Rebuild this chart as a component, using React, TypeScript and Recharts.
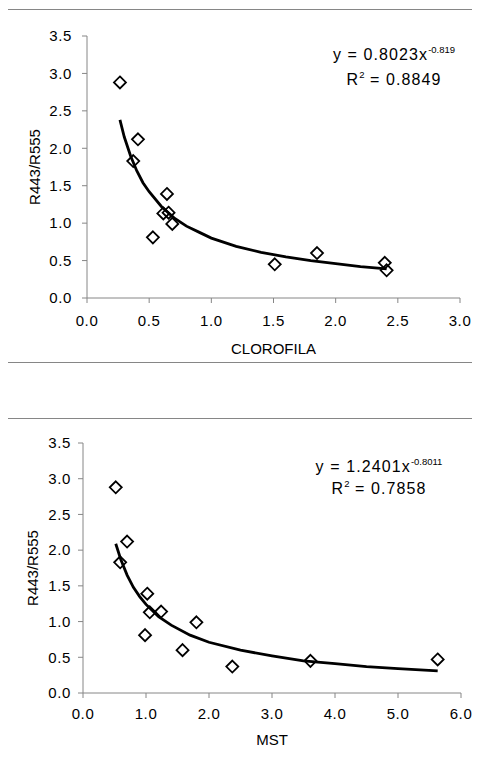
import { ScatterChart, Scatter, XAxis, YAxis } from 'recharts';

// R443/R555 ratio, same samples in both panels
const ratio = [2.88, 2.12, 1.83, 1.39, 1.13, 1.14, 0.99, 0.81, 0.45, 0.6, 0.47, 0.37];
const clorofila = [0.265, 0.41, 0.372, 0.643, 0.614, 0.656, 0.686, 0.53, 1.51, 1.85, 2.395, 2.41];
const mst = [0.52, 0.7, 0.59, 1.02, 1.06, 1.24, 1.8, 0.985, 3.61, 1.58, 5.63, 2.37];

// power trend lines
const trend1X = [0.265, 0.3, 0.35, 0.4, 0.45, 0.5, 0.6, 0.7, 0.8, 0.9, 1.0, 1.2, 1.4, 1.6, 1.8, 2.0, 2.2, 2.41];
const trend1Y = [2.38, 2.15, 1.9, 1.7, 1.54, 1.42, 1.22, 1.07, 0.96, 0.88, 0.8, 0.69, 0.61, 0.55, 0.5, 0.46, 0.42, 0.39];
const trend2X = [0.52, 0.6, 0.7, 0.8, 0.9, 1.0, 1.2, 1.4, 1.7, 2.0, 2.5, 3.0, 3.5, 4.0, 4.5, 5.0, 5.63];
const trend2Y = [2.09, 1.87, 1.65, 1.48, 1.35, 1.24, 1.07, 0.95, 0.81, 0.71, 0.6, 0.52, 0.45, 0.41, 0.37, 0.34, 0.31];

const yTicks = [0, 0.5, 1, 1.5, 2, 2.5, 3, 3.5];
const x1Ticks = [0, 0.5, 1, 1.5, 2, 2.5, 3];
const x2Ticks = [0, 1, 2, 3, 4, 5, 6];

const pts = (xs: number[], ys: number[]) => xs.map((x, i) => ({ x, y: ys[i] }));

const FONT = '"Liberation Sans", Arial, sans-serif';
const AXIS = '#868686';

const Diamond = (props: any) => {
  const { cx, cy } = props;
  const r = 6;
  return (
    <path
      d={`M${cx},${cy - r}L${cx + r},${cy}L${cx},${cy + r}L${cx - r},${cy}Z`}
      fill="none"
      stroke="#000"
      strokeWidth={1.8}
    />
  );
};

const Nothing = () => <g />;

const tickStyle = { fill: '#000', fontSize: 15, fontFamily: FONT, letterSpacing: 0.6 };

function Panel(props: {
  top: number;
  height: number;
  margin: { top: number; right: number; bottom: number; left: number };
  xDomain: [number, number];
  xTicks: number[];
  xLabel: string;
  xHeight: number;
  xTickMargin: number;
  yTickMargin: number;
  yLabelOffset: number;
  data: { x: number; y: number }[];
  trend: { x: number; y: number }[];
}) {
  const p = props;
  return (
    <div style={{ position: 'absolute', left: 0, top: p.top }}>
      <ScatterChart width={480} height={p.height} margin={p.margin}>
        <XAxis
          type="number"
          dataKey="x"
          domain={p.xDomain}
          ticks={p.xTicks}
          interval={0}
          tickFormatter={(v: number) => v.toFixed(1)}
          stroke={AXIS}
          tickSize={5}
          tickMargin={p.xTickMargin}
          tick={tickStyle}
          height={p.xHeight}
          allowDataOverflow
          label={{ value: p.xLabel, position: 'insideBottom', offset: 4, fill: '#000', fontSize: 15, fontFamily: FONT }}
        />
        <YAxis
          type="number"
          dataKey="y"
          domain={[0, 3.5]}
          ticks={yTicks}
          interval={0}
          tickFormatter={(v: number) => v.toFixed(1)}
          stroke={AXIS}
          tickSize={5}
          tickMargin={p.yTickMargin}
          tick={tickStyle}
          width={60}
          allowDataOverflow
          label={{
            value: 'R443/R555',
            angle: -90,
            position: 'insideLeft',
            offset: p.yLabelOffset,
            style: { textAnchor: 'middle' },
            fill: '#000',
            fontSize: 15,
            fontFamily: FONT,
          }}
        />
        <Scatter data={p.data} shape={<Diamond />} isAnimationActive={false} />
        <Scatter
          data={p.trend}
          shape={<Nothing />}
          line={{ stroke: '#000', strokeWidth: 2.8 }}
          lineType="joint"
          isAnimationActive={false}
        />
      </ScatterChart>
    </div>
  );
}

const eqLine = (left: number, top: number, width: number): React.CSSProperties => ({
  position: 'absolute',
  left,
  top,
  width,
  textAlign: 'center',
  fontFamily: FONT,
  fontSize: 16,
  lineHeight: '18px',
  letterSpacing: 1.1,
  color: '#000',
  whiteSpace: 'nowrap',
});

const sup: React.CSSProperties = { fontSize: 9.5, position: 'relative', top: -7, letterSpacing: 0 };

export default function App() {
  return (
    <div style={{ position: 'relative', margin: -8, width: 480, height: 762, overflow: 'hidden', background: '#fff' }}>
      <div style={{ position: 'absolute', left: 7, top: 9, width: 480, height: 352, border: `1px solid ${AXIS}` }} />
      <div style={{ position: 'absolute', left: 7, top: 418, width: 480, height: 360, border: `1px solid ${AXIS}` }} />

      <Panel
        top={0}
        height={362}
        margin={{ top: 36, right: 20, bottom: 4, left: 27 }}
        xDomain={[0, 3]}
        xTicks={x1Ticks}
        xLabel="CLOROFILA"
        xHeight={60}
        xTickMargin={12}
        yTickMargin={10}
        yLabelOffset={8}
        data={pts(clorofila, ratio)}
        trend={pts(trend1X, trend1Y)}
      />
      <Panel
        top={406}
        height={356}
        margin={{ top: 37, right: 19, bottom: 13, left: 23 }}
        xDomain={[0, 6]}
        xTicks={x2Ticks}
        xLabel="MST"
        xHeight={56}
        xTickMargin={10}
        yTickMargin={7}
        yLabelOffset={10}
        data={pts(mst, ratio)}
        trend={pts(trend2X, trend2Y)}
      />

      <div style={eqLine(314, 46, 160)}>
        y = 0.8023x<span style={sup}>-0.819</span>
      </div>
      <div style={eqLine(314, 71, 160)}>
        R<span style={sup}>2</span> = 0.8849
      </div>
      <div style={eqLine(299, 458, 160)}>
        y = 1.2401x<span style={sup}>-0.8011</span>
      </div>
      <div style={eqLine(299, 480, 160)}>
        R<span style={sup}>2</span> = 0.7858
      </div>
    </div>
  );
}
